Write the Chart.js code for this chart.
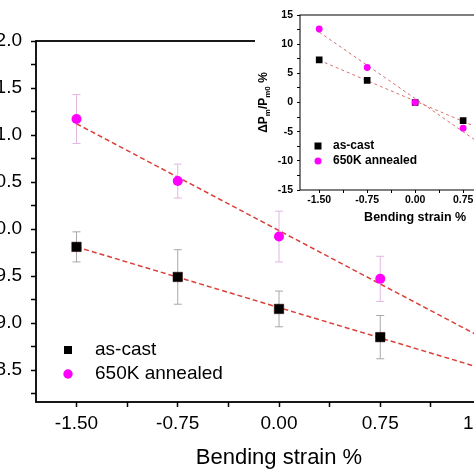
<!DOCTYPE html>
<html>
<head>
<meta charset="utf-8">
<script src="https://cdn.jsdelivr.net/npm/chart.js@4.4.1/dist/chart.umd.min.js"></script>
<style>
    html, body { margin: 0; padding: 0; background: #fff; overflow: hidden; }
    #quadro { position: relative; width: 474px; height: 474px; overflow: hidden; }
    #principal { position: absolute; left: -40px; top: 0; }
    #inserto { position: absolute; left: 255px; top: 0; }
</style>
</head>
<body>
<div id="quadro">
    <canvas id="principal" width="600" height="474"></canvas>
    <canvas id="inserto" width="280" height="228"></canvas>
</div>
<script>
// Dados
const nomesSeries = ['as-cast', '650K annealed'];
const deformacao = [-1.50, -0.75, 0.00, 0.75];

const asCast = [9.81, 9.49, 9.15, 8.85];
const asCastErro = [0.16, 0.29, 0.19, 0.23];
const recozido = [11.17, 10.51, 9.92, 9.47];
const recozidoErro = [0.26, 0.18, 0.27, 0.24];

// Retas de ajuste (extremos lidos)
const ajusteX = [-1.50, 1.80];
const asCastAjuste = [9.81, 8.39];
const recozidoAjuste = [11.12, 8.62];

// Inserto: variação relativa (%)
const asCastDelta = [7.3, 3.8, 0.0, -3.1];
const recozidoDelta = [12.6, 6.0, 0.0, -4.4];
const asCastDeltaAjuste = [7.24, -8.14];
const recozidoDeltaAjuste = [12.07, -12.98];

// Limites dos eixos
const limitesX = [-1.8, 1.8];
const limitesY = [8.16, 12.0];
const limitesYInserto = [-15, 15];

const fonte = '"Liberation Sans", Arial, sans-serif';

const pontos = (xs, ys) => xs.map((x, i) => ({ x: x, y: ys[i] }));
const multiplo = (v, passo) => Math.abs(v / passo - Math.round(v / passo)) < 1e-6;

// Moldura em volta da área do gráfico
const molduraPlugin = {
    id: 'moldura',
    afterDraw(chart, args, o) {
        const { ctx, chartArea: a } = chart;
        ctx.save();
        ctx.strokeStyle = '#000';
        ctx.lineWidth = o.largura;
        ctx.strokeRect(a.left, a.top, a.right - a.left, a.bottom - a.top);
        ctx.restore();
    }
};

// Barras de erro desenhadas pelas escalas
const barrasErroPlugin = {
    id: 'barrasErro',
    beforeDatasetsDraw(chart, args, o) {
        const { ctx, scales: { x, y } } = chart;
        chart.data.datasets.forEach(ds => {
            if (!ds.erros) return;
            ctx.save();
            ctx.strokeStyle = ds.corErro;
            ctx.lineWidth = 1;
            ds.data.forEach((p, j) => {
                const px = x.getPixelForValue(p.x);
                const topo = y.getPixelForValue(p.y + ds.erros[j]);
                const base = y.getPixelForValue(p.y - ds.erros[j]);
                ctx.beginPath();
                ctx.moveTo(px, topo); ctx.lineTo(px, base);
                ctx.moveTo(px - o.capa, topo); ctx.lineTo(px + o.capa, topo);
                ctx.moveTo(px - o.capa, base); ctx.lineTo(px + o.capa, base);
                ctx.stroke();
            });
            ctx.restore();
        });
    }
};

// Legenda dentro da área do gráfico
const legendaPlugin = {
    id: 'legenda',
    afterDraw(chart, args, o) {
        const { ctx, chartArea: a } = chart;
        ctx.save();
        ctx.font = o.fonte;
        ctx.textBaseline = 'middle';
        [0, 1].forEach(i => {
            const ds = chart.data.datasets[i];
            const mx = a.left + o.marcadorX;
            const my = a.bottom + o.linhas[i];
            ctx.fillStyle = ds.backgroundColor;
            if (ds.pointStyle === 'rect') {
                ctx.fillRect(mx - o.lado / 2, my - o.lado / 2, o.lado, o.lado);
            } else {
                ctx.beginPath();
                ctx.arc(mx, my, o.raio, 0, Math.PI * 2);
                ctx.fill();
            }
            ctx.fillStyle = '#000';
            ctx.fillText(ds.label, a.left + o.textoX, my);
        });
        ctx.restore();
    }
};

// Fundo branco do inserto
const fundoPlugin = {
    id: 'fundo',
    beforeDraw(chart, args, o) {
        const { ctx } = chart;
        ctx.save();
        ctx.fillStyle = '#fff';
        ctx.fillRect(0, 0, chart.width, o.altura);
        ctx.restore();
    }
};

// Título do eixo y do inserto com subscritos
const tituloYPlugin = {
    id: 'tituloY',
    afterDraw(chart, args, o) {
        const { ctx, chartArea: a } = chart;
        const partes = [['\u0394P', 0], ['m', 1], ['/P', 0], ['m0', 1], [' %', 0]];
        const fontes = ['bold 12px ' + fonte, 'bold 8px ' + fonte];
        ctx.save();
        ctx.translate(o.x, (a.top + a.bottom) / 2);
        ctx.rotate(-Math.PI / 2);
        ctx.fillStyle = '#000';
        ctx.textBaseline = 'alphabetic';
        let total = 0;
        partes.forEach(([t, s]) => { ctx.font = fontes[s]; total += ctx.measureText(t).width; });
        let cx = -total / 2;
        partes.forEach(([t, s]) => {
            ctx.font = fontes[s];
            ctx.fillText(t, cx, s ? 3 : 0);
            cx += ctx.measureText(t).width;
        });
        ctx.restore();
    }
};

function criarGraficoPrincipal() {
    new Chart(document.getElementById('principal'), {
        type: 'scatter',
        data: {
            datasets: [
                {
                    label: nomesSeries[0], data: pontos(deformacao, asCast),
                    erros: asCastErro, corErro: '#a8a8a8',
                    pointStyle: 'rect', pointRadius: 6.7, backgroundColor: '#000', borderColor: '#2a0000', borderWidth: 0.5
                },
                {
                    label: nomesSeries[1], data: pontos(deformacao, recozido),
                    erros: recozidoErro, corErro: '#e2b6e2',
                    pointStyle: 'circle', pointRadius: 5, backgroundColor: '#ff00ff', borderColor: '#ff00ff', borderWidth: 0
                },
                {
                    label: 'ajuste1', data: pontos(ajusteX, asCastAjuste), showLine: true, pointRadius: 0,
                    borderColor: '#d9403a', borderWidth: 1.5, borderDash: [5, 3]
                },
                {
                    label: 'ajuste2', data: pontos(ajusteX, recozidoAjuste), showLine: true, pointRadius: 0,
                    borderColor: '#d9403a', borderWidth: 1.5, borderDash: [5, 3]
                }
            ]
        },
        options: {
            responsive: false,
            animation: false,
            events: [],
            layout: { padding: { left: 0, right: 38, top: 41, bottom: 0 } },
            plugins: {
                legend: { display: false },
                tooltip: { enabled: false },
                moldura: { largura: 1.8 },
                barrasErro: { capa: 4 },
                legenda: { fonte: '19px ' + fonte, marcadorX: 32, textoX: 59, linhas: [-52, -28], lado: 8, raio: 4.7 }
            },
            scales: {
                x: {
                    type: 'linear', min: limitesX[0], max: limitesX[1],
                    afterFit: s => { s.height = 72; },
                    ticks: {
                        stepSize: 0.375, autoSkip: false, maxRotation: 0, includeBounds: false, maxTicksLimit: 100,
                        color: '#000', font: { family: fonte, size: 19 }, padding: 5,
                        callback: v => multiplo(v, 0.75) ? v.toFixed(2) : ''
                    },
                    grid: { drawOnChartArea: false, drawTicks: true, tickLength: 5, tickColor: '#000', tickWidth: 1.5 },
                    border: { display: false },
                    title: { display: true, text: 'Bending strain %', color: '#000', font: { family: fonte, size: 22 }, padding: { top: 0, bottom: 3 } }
                },
                y: {
                    min: limitesY[0], max: limitesY[1],
                    afterFit: s => { s.width = 76; },
                    ticks: {
                        stepSize: 0.25, autoSkip: false, includeBounds: false, maxTicksLimit: 100,
                        color: '#000', font: { family: fonte, size: 19 }, padding: 9,
                        callback: v => multiplo(v, 0.5) ? v.toFixed(1) : ''
                    },
                    grid: { drawOnChartArea: false, drawTicks: true, tickLength: 5, tickColor: '#000', tickWidth: 1.5 },
                    border: { display: false }
                }
            }
        },
        plugins: [barrasErroPlugin, molduraPlugin, legendaPlugin]
    });
}

function criarGraficoInserto() {
    const fonteNegrito = { family: fonte, size: 10.5, weight: 'bold' };
    new Chart(document.getElementById('inserto'), {
        type: 'scatter',
        data: {
            datasets: [
                {
                    label: nomesSeries[0], data: pontos(deformacao, asCastDelta), order: 1,
                    pointStyle: 'rect', pointRadius: 4.7, backgroundColor: '#000', borderColor: '#000', borderWidth: 0
                },
                {
                    label: nomesSeries[1], data: pontos(deformacao, recozidoDelta), order: 0,
                    pointStyle: 'circle', pointRadius: 3.4, backgroundColor: '#ff00ff', borderColor: '#ff00ff', borderWidth: 0
                },
                {
                    label: 'ajuste1', data: pontos(ajusteX, asCastDeltaAjuste), showLine: true, pointRadius: 0, order: 2,
                    borderColor: '#d87070', borderWidth: 1, borderDash: [3, 3]
                },
                {
                    label: 'ajuste2', data: pontos(ajusteX, recozidoDeltaAjuste), showLine: true, pointRadius: 0, order: 2,
                    borderColor: '#d87070', borderWidth: 1, borderDash: [3, 3]
                }
            ]
        },
        options: {
            responsive: false,
            animation: false,
            events: [],
            layout: { padding: { left: 0, right: 3, top: 15, bottom: 0 } },
            plugins: {
                legend: { display: false },
                tooltip: { enabled: false },
                fundo: { altura: 206 },
                moldura: { largura: 1 },
                legenda: { fonte: 'bold 12px ' + fonte, marcadorX: 18, textoX: 33, linhas: [-44, -29], lado: 7, raio: 3.5 },
                tituloY: { x: 12 }
            },
            scales: {
                x: {
                    type: 'linear', min: limitesX[0], max: limitesX[1],
                    afterFit: s => { s.height = 38; },
                    ticks: {
                        stepSize: 0.375, autoSkip: false, maxRotation: 0, includeBounds: false, maxTicksLimit: 100,
                        color: '#000', font: fonteNegrito, padding: 1,
                        callback: v => multiplo(v, 0.75) ? v.toFixed(2) : ''
                    },
                    grid: { drawOnChartArea: false, drawTicks: true, tickLength: 3, tickColor: '#000', tickWidth: 1 },
                    border: { display: false },
                    title: { display: true, text: 'Bending strain %', color: '#000', font: { family: fonte, size: 12.5, weight: 'bold' }, padding: { top: 0, bottom: 2.5 } }
                },
                y: {
                    min: limitesYInserto[0], max: limitesYInserto[1],
                    afterFit: s => { s.width = 45; },
                    ticks: {
                        stepSize: 2.5, autoSkip: false, includeBounds: false, maxTicksLimit: 100,
                        color: '#000', font: fonteNegrito, padding: 4,
                        callback: v => multiplo(v, 5) ? String(v) : ''
                    },
                    grid: { drawOnChartArea: false, drawTicks: true, tickLength: 3, tickColor: '#000', tickWidth: 1 },
                    border: { display: false }
                }
            }
        },
        plugins: [fundoPlugin, molduraPlugin, legendaPlugin, tituloYPlugin]
    });
}

document.addEventListener('DOMContentLoaded', () => {
    criarGraficoPrincipal();
    criarGraficoInserto();
});
</script>
</body>
</html>
